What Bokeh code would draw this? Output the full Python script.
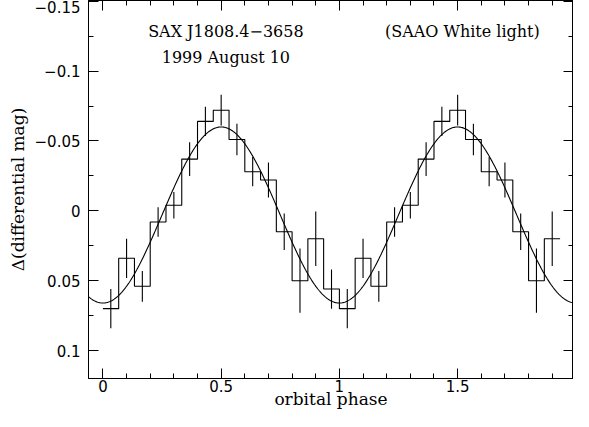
import numpy as np
from bokeh.plotting import figure
from bokeh.models import (Range1d, LinearAxis, SingleIntervalTicker, ColumnDataSource,
                          CustomJSTickFormatter)
from bokeh.core.properties import value
from bokeh.embed import file_html
from bokeh.resources import INLINE

# ---- data ----
n_bins = 15
bin_mag = [0.070, 0.034, 0.054, 0.008, -0.004, -0.037, -0.064, -0.072,
           -0.051, -0.028, -0.022, 0.015, 0.050, 0.020, 0.056]
bin_err = [0.014, 0.014, 0.011, 0.0105, 0.0095, 0.012, 0.0105, 0.011,
           0.0113, 0.0105, 0.0125, 0.013, 0.023, 0.0195, 0.014]
n_second_cycle = 14          # bins plotted in the repeated cycle
fit_mean = 0.003             # sinusoid fit: mean level
fit_amp = 0.063              # sinusoid fit: semi-amplitude (min light at phase 0)
x_tick_labels = {0: "0", 0.5: "0.5", 1: "1", 1.5: "1.5"}
y_tick_labels = {-0.15: "\u22120.15", -0.1: "\u22120.1", -0.05: "\u22120.05",
                 0: "0", 0.05: "0.05", 0.1: "0.1"}

# ---- build two cycles ----
mags = list(bin_mag) + list(bin_mag[:n_second_cycle])
errs = list(bin_err) + list(bin_err[:n_second_cycle])
nb = len(mags)
edges = np.arange(nb + 1) / n_bins
centers = (np.arange(nb) + 0.5) / n_bins

serif = "DejaVu Serif"
sans = "DejaVu Sans"

p = figure(width=573, height=411, output_backend="svg", toolbar_location=None,
           x_range=Range1d(-0.061, 1.99), y_range=Range1d(0.12, -0.1505),
           min_border_left=88, min_border_right=0, min_border_top=0,
           min_border_bottom=0)
p.background_fill_color = "white"
p.border_fill_color = "white"
p.outline_line_color = "black"
p.outline_line_width = 1
p.grid.visible = False

for ax in (p.xaxis[0], p.yaxis[0]):
    ax.major_tick_in = 10
    ax.major_tick_out = 0
    ax.minor_tick_in = 5
    ax.minor_tick_out = 0
    ax.axis_line_color = "black"
    ax.major_tick_line_color = "black"
    ax.minor_tick_line_color = "black"
    ax.major_label_text_font = sans
    ax.major_label_text_font_size = "15px"
    ax.major_label_text_color = "black"
    ax.axis_label_text_font = serif
    ax.axis_label_text_font_size = "17px"
    ax.axis_label_text_font_style = "normal"
    ax.axis_label_text_color = "black"

p.xaxis[0].ticker = SingleIntervalTicker(interval=0.5, num_minor_ticks=5)
p.yaxis[0].ticker = SingleIntervalTicker(interval=0.05, num_minor_ticks=2)
p.xaxis[0].major_label_overrides = x_tick_labels
p.yaxis[0].major_label_overrides = y_tick_labels
p.xaxis[0].axis_label = "orbital phase"
p.yaxis[0].axis_label = "\u0394(differential mag)"
p.xaxis[0].major_label_standoff = 1
p.xaxis[0].axis_label_standoff = -6
p.yaxis[0].major_label_standoff = 8
p.yaxis[0].axis_label_standoff = 4
p.yaxis[0].major_label_orientation = "horizontal"

# mirror axes (ticks only) on top and right
top = LinearAxis(ticker=SingleIntervalTicker(interval=0.5, num_minor_ticks=5),
                 formatter=CustomJSTickFormatter(code="return '';"))
right = LinearAxis(ticker=SingleIntervalTicker(interval=0.05, num_minor_ticks=2),
                   formatter=CustomJSTickFormatter(code="return '';"))
for ax in (top, right):
    ax.major_tick_in = 10
    ax.major_tick_out = 0
    ax.minor_tick_in = 5
    ax.minor_tick_out = 0
    ax.major_label_text_font_size = "1px"
    ax.major_label_standoff = 0
    ax.axis_line_color = "black"
    ax.major_tick_line_color = "black"
    ax.minor_tick_line_color = "black"
p.add_layout(top, "above")
p.add_layout(right, "right")

# fitted sinusoid
phi = np.linspace(-0.07, 2.0, 600)
fit = fit_mean + fit_amp * np.cos(2 * np.pi * phi)
p.line(phi, fit, line_color="black", line_width=1.1)

# step histogram
step_y = mags + [mags[-1]]
p.step(list(edges), step_y, mode="after", line_color="black", line_width=1.1)

# error bars
src = ColumnDataSource(dict(x=centers, lo=np.array(mags) - np.array(errs),
                            hi=np.array(mags) + np.array(errs)))
p.segment(x0="x", y0="lo", x1="x", y1="hi", source=src,
          line_color="black", line_width=1.1)

# annotations
p.text(x=[0.52], y=[-0.1286], text=["SAX J1808.4\u22123658"],
       text_font=value(serif), text_font_size="16px", text_align="center",
       text_baseline="middle", text_color="black")
p.text(x=[0.52], y=[-0.1097], text=["1999 August 10"],
       text_font=value(serif), text_font_size="16px", text_align="center",
       text_baseline="middle", text_color="black")
p.text(x=[1.52], y=[-0.1286], text=["(SAAO White light)"],
       text_font=value(serif), text_font_size="16px", text_align="center",
       text_baseline="middle", text_color="black")

open("out.html", "w").write(file_html(p, INLINE))
